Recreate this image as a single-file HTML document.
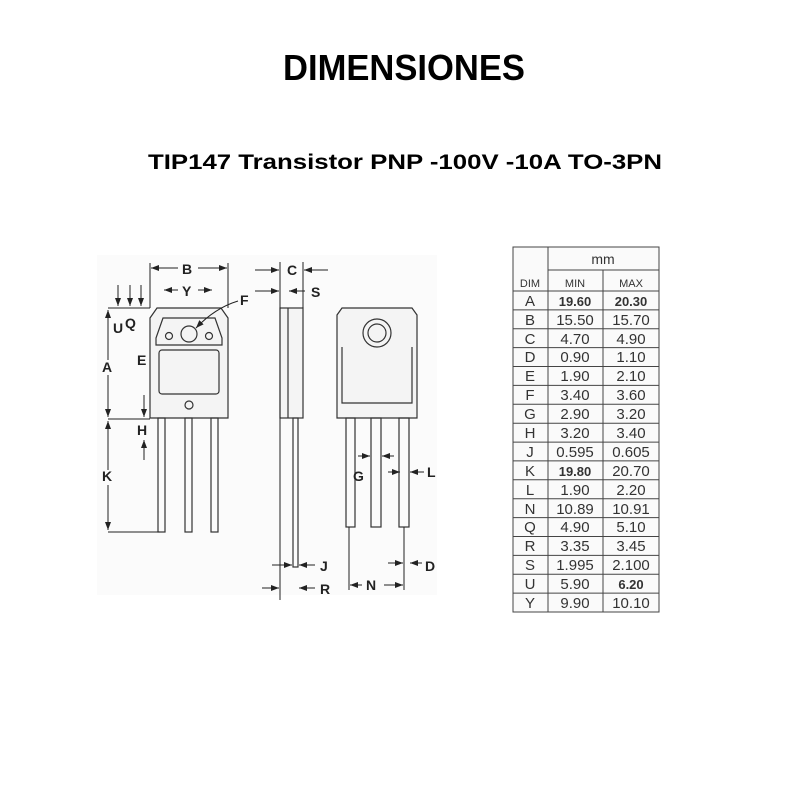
<!DOCTYPE html>
<html><head><meta charset="utf-8"><style>
html,body{margin:0;padding:0;background:#fff;}
svg{display:block}
text{font-family:"Liberation Sans",sans-serif}
</style></head><body>
<svg width="800" height="800" viewBox="0 0 800 800" xmlns="http://www.w3.org/2000/svg">
<defs>
<marker id="ar" markerWidth="8" markerHeight="6" refX="8" refY="3" orient="auto" markerUnits="userSpaceOnUse"><path d="M0,0 L8,3 L0,6 Z" fill="#222"/></marker>
</defs>
<rect width="800" height="800" fill="#fff"/>
<text x="404" y="80" font-size="36" font-weight="bold" text-anchor="middle" textLength="242" lengthAdjust="spacingAndGlyphs">DIMENSIONES</text>
<text x="405" y="169" font-size="21" font-weight="bold" text-anchor="middle" textLength="514" lengthAdjust="spacingAndGlyphs">TIP147 Transistor PNP -100V -10A TO-3PN</text>

<rect x="97" y="255" width="340" height="340" fill="#fbfbfb"/>
<g stroke="#333" stroke-width="1.2" fill="none">
<path d="M157,308 L221,308 L228,318 L228,418 L150,418 L150,318 Z" fill="#f4f4f4"/>
<path d="M163,318 L215,318 L222,338 L222,345 L156,345 L156,338 Z"/>
<rect x="159" y="350" width="60" height="44" rx="3"/>
<circle cx="189" cy="334" r="8"/>
<circle cx="169" cy="336" r="3.5"/>
<circle cx="209" cy="336" r="3.5"/>
<circle cx="189" cy="405" r="4"/>
<rect x="158" y="418" width="7" height="114"/>
<rect x="185" y="418" width="7" height="114"/>
<rect x="211" y="418" width="7" height="114"/>
<rect x="280" y="308" width="23" height="110" fill="#f4f4f4"/>
<line x1="288" y1="308" x2="288" y2="418"/>
<rect x="293" y="418" width="5" height="149"/>
<path d="M342,308 L412,308 L417,315 L417,418 L337,418 L337,315 Z" fill="#f4f4f4"/>
<path d="M342,347 L342,403 L412,403 L412,347"/>
<circle cx="377" cy="333" r="14"/>
<circle cx="377" cy="333" r="9"/>
<rect x="346" y="418" width="9" height="109"/>
<rect x="371" y="418" width="10" height="109"/>
<rect x="399" y="418" width="10" height="109"/>
</g>
<g stroke="#222" stroke-width="1" fill="none">
<line x1="150" y1="263" x2="150" y2="308"/><line x1="228" y1="263" x2="228" y2="308"/>
<line x1="178" y1="268" x2="151" y2="268" marker-end="url(#ar)"/><line x1="198" y1="268" x2="227" y2="268" marker-end="url(#ar)"/>
<line x1="178" y1="290" x2="164" y2="290" marker-end="url(#ar)"/><line x1="198" y1="290" x2="212" y2="290" marker-end="url(#ar)"/>
<line x1="118" y1="285" x2="118" y2="306" marker-end="url(#ar)"/>
<line x1="130" y1="285" x2="130" y2="306" marker-end="url(#ar)"/>
<line x1="141" y1="285" x2="141" y2="306" marker-end="url(#ar)"/>
<line x1="108" y1="308" x2="150" y2="308"/>
<line x1="108" y1="360" x2="108" y2="310" marker-end="url(#ar)"/><line x1="108" y1="375" x2="108" y2="417" marker-end="url(#ar)"/>
<line x1="108" y1="470" x2="108" y2="421" marker-end="url(#ar)"/><line x1="108" y1="485" x2="108" y2="530" marker-end="url(#ar)"/>
<line x1="108" y1="532" x2="160" y2="532"/>
<line x1="108" y1="419" x2="150" y2="419"/>
<line x1="144" y1="395" x2="144" y2="417" marker-end="url(#ar)"/><line x1="144" y1="460" x2="144" y2="440" marker-end="url(#ar)"/>
<line x1="280" y1="262" x2="280" y2="600"/><line x1="303" y1="262" x2="303" y2="308"/>
<line x1="255" y1="270" x2="279" y2="270" marker-end="url(#ar)"/><line x1="328" y1="270" x2="304" y2="270" marker-end="url(#ar)"/>
<line x1="255" y1="291" x2="279" y2="291" marker-end="url(#ar)"/><line x1="305" y1="291" x2="289" y2="291" marker-end="url(#ar)"/>
<line x1="272" y1="565" x2="292" y2="565" marker-end="url(#ar)"/><line x1="315" y1="565" x2="299" y2="565" marker-end="url(#ar)"/>
<line x1="262" y1="588" x2="279" y2="588" marker-end="url(#ar)"/><line x1="315" y1="588" x2="299" y2="588" marker-end="url(#ar)"/>
<line x1="349" y1="527" x2="349" y2="590"/><line x1="404" y1="527" x2="404" y2="590"/>
<line x1="362" y1="585" x2="350" y2="585" marker-end="url(#ar)"/><line x1="384" y1="585" x2="403" y2="585" marker-end="url(#ar)"/>
<line x1="388" y1="563" x2="403" y2="563" marker-end="url(#ar)"/><line x1="422" y1="563" x2="410" y2="563" marker-end="url(#ar)"/>
<line x1="388" y1="472" x2="400" y2="472" marker-end="url(#ar)"/><line x1="424" y1="472" x2="410" y2="472" marker-end="url(#ar)"/>
<line x1="358" y1="456" x2="370" y2="456" marker-end="url(#ar)"/><line x1="394" y1="456" x2="382" y2="456" marker-end="url(#ar)"/>
<path d="M238,301 Q215,308 196,328" marker-end="url(#ar)"/>
</g>
<g font-size="14" font-weight="bold" fill="#222">
<text x="182" y="274">B</text><text x="182" y="296">Y</text>
<text x="240" y="305">F</text>
<text x="113" y="333">U</text><text x="125" y="328">Q</text>
<text x="137" y="365">E</text><text x="102" y="372">A</text>
<text x="137" y="435">H</text><text x="102" y="481">K</text>
<text x="287" y="275">C</text><text x="311" y="297">S</text>
<text x="320" y="571">J</text><text x="320" y="594">R</text>
<text x="353" y="481">G</text><text x="427" y="477">L</text>
<text x="366" y="590">N</text><text x="425" y="571">D</text>
</g>

<g stroke="#444" stroke-width="1" fill="none">
<rect x="513" y="247" width="146" height="365" fill="#fafafa"/>
<line x1="548" y1="247" x2="548" y2="612"/>
<line x1="603" y1="270" x2="603" y2="612"/>
<line x1="548" y1="270" x2="659" y2="270"/>
<line x1="513" y1="291" x2="659" y2="291"/>
<line x1="513" y1="309.9" x2="659" y2="309.9"/><line x1="513" y1="328.8" x2="659" y2="328.8"/>
<line x1="513" y1="347.6" x2="659" y2="347.6"/><line x1="513" y1="366.5" x2="659" y2="366.5"/>
<line x1="513" y1="385.4" x2="659" y2="385.4"/><line x1="513" y1="404.3" x2="659" y2="404.3"/>
<line x1="513" y1="423.2" x2="659" y2="423.2"/><line x1="513" y1="442.1" x2="659" y2="442.1"/>
<line x1="513" y1="460.9" x2="659" y2="460.9"/><line x1="513" y1="479.8" x2="659" y2="479.8"/>
<line x1="513" y1="498.7" x2="659" y2="498.7"/><line x1="513" y1="517.6" x2="659" y2="517.6"/>
<line x1="513" y1="536.5" x2="659" y2="536.5"/><line x1="513" y1="555.4" x2="659" y2="555.4"/>
<line x1="513" y1="574.2" x2="659" y2="574.2"/><line x1="513" y1="593.1" x2="659" y2="593.1"/>
</g>
<g fill="#333" text-anchor="middle">
<text x="603" y="264" font-size="14">mm</text>
<text x="530" y="287" font-size="11">DIM</text>
<text x="575" y="287" font-size="11">MIN</text>
<text x="631" y="287" font-size="11">MAX</text>
</g>
<g font-size="15" fill="#333" text-anchor="middle">
<text x="530" y="306">A</text><text x="575" y="306" font-weight="bold" font-size="13">19.60</text><text x="631" y="306" font-weight="bold" font-size="13">20.30</text>
<text x="530" y="325">B</text><text x="575" y="325">15.50</text><text x="631" y="325">15.70</text>
<text x="530" y="344">C</text><text x="575" y="344">4.70</text><text x="631" y="344">4.90</text>
<text x="530" y="362">D</text><text x="575" y="362">0.90</text><text x="631" y="362">1.10</text>
<text x="530" y="381">E</text><text x="575" y="381">1.90</text><text x="631" y="381">2.10</text>
<text x="530" y="400">F</text><text x="575" y="400">3.40</text><text x="631" y="400">3.60</text>
<text x="530" y="419">G</text><text x="575" y="419">2.90</text><text x="631" y="419">3.20</text>
<text x="530" y="438">H</text><text x="575" y="438">3.20</text><text x="631" y="438">3.40</text>
<text x="530" y="457">J</text><text x="575" y="457">0.595</text><text x="631" y="457">0.605</text>
<text x="530" y="476">K</text><text x="575" y="476" font-weight="bold" font-size="13">19.80</text><text x="631" y="476">20.70</text>
<text x="530" y="495">L</text><text x="575" y="495">1.90</text><text x="631" y="495">2.20</text>
<text x="530" y="514">N</text><text x="575" y="514">10.89</text><text x="631" y="514">10.91</text>
<text x="530" y="532">Q</text><text x="575" y="532">4.90</text><text x="631" y="532">5.10</text>
<text x="530" y="551">R</text><text x="575" y="551">3.35</text><text x="631" y="551">3.45</text>
<text x="530" y="570">S</text><text x="575" y="570">1.995</text><text x="631" y="570">2.100</text>
<text x="530" y="589">U</text><text x="575" y="589">5.90</text><text x="631" y="589" font-weight="bold" font-size="13">6.20</text>
<text x="530" y="608">Y</text><text x="575" y="608">9.90</text><text x="631" y="608">10.10</text>
</g>
</svg>
</body></html>
